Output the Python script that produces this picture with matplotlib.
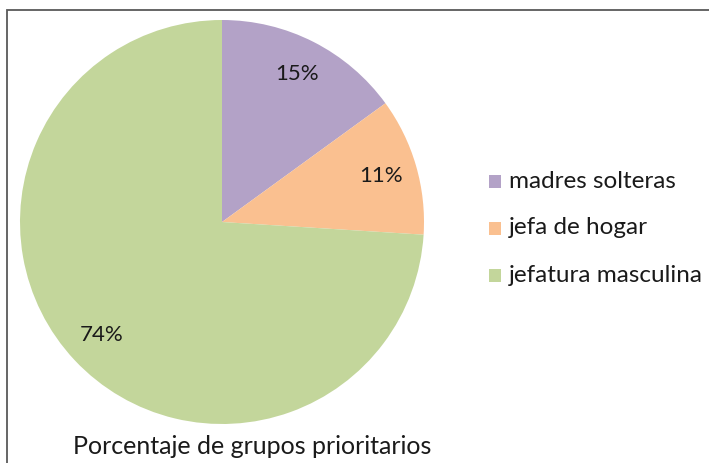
import matplotlib.pyplot as plt
from matplotlib.patches import Rectangle

labels = ["madres solteras", "jefa de hogar", "jefatura masculina"]
values = [15, 11, 74]
colors = ["#B3A2C7", "#FAC090", "#C3D69B"]
title = "Porcentaje de grupos prioritarios"

W, H = 709, 463
plt.rcParams["font.family"] = ["Lato", "DejaVu Sans"]


def main():
    fig = plt.figure(figsize=(W / 100, H / 100), dpi=100)

    # chart frame, only left/top edges visible inside the image
    fig.patches.append(Rectangle((7 / W, -0.1), 1.2, (H - 10.5) / H + 0.1,
                                 transform=fig.transFigure, fill=False,
                                 edgecolor="#595959", linewidth=1.3))

    cx, cy, r = 222, 222, 202
    ax = fig.add_axes([(cx - r) / W, (H - cy - r) / H, 2 * r / W, 2 * r / H])
    wedges, _, autotexts = ax.pie(
        values,
        colors=colors,
        startangle=90,
        counterclock=False,
        autopct="%d%%",
        pctdistance=0.82,
        radius=1,
        textprops={"fontsize": 16, "color": "#1a1a1a"},
    )
    ax.set_xlim(-1, 1)
    ax.set_ylim(-1, 1)
    ax.set_aspect("equal")

    ys = [181, 228, 275]
    for wedge, lab, y in zip(wedges, labels, ys):
        fig.patches.append(Rectangle((489 / W, (H - y - 6.5) / H), 12 / W, 13 / H,
                                     transform=fig.transFigure,
                                     facecolor=wedge.get_facecolor(), edgecolor="none"))
        fig.text(509 / W, (H - y) / H, lab, fontsize=17.5, va="center", ha="left",
                 color="#1a1a1a")

    fig.text(252 / W, (H - 446) / H, title, fontsize=18, ha="center", va="center",
             color="#1a1a1a")

    fig.savefig("out.png", dpi=100)
    plt.close(fig)


if __name__ == "__main__":
    main()
